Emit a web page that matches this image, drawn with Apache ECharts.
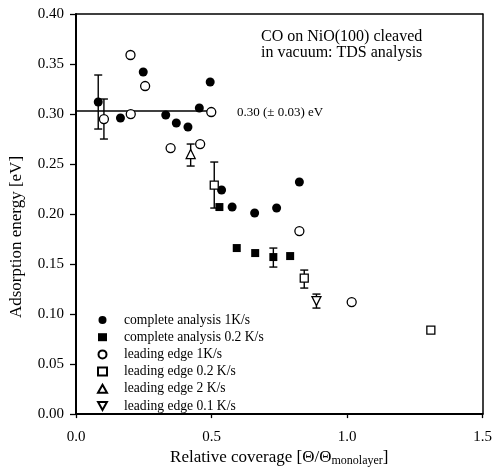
<!DOCTYPE html>
<html><head><meta charset="utf-8">
<script src="https://cdn.jsdelivr.net/npm/echarts@6/dist/echarts.min.js"></script>
<style>html,body{margin:0;padding:0;background:#fff}#c{width:495px;height:472px}</style>
</head><body><div id="c"></div>
<script>
// complete analysis 1K/s
const ca1X = [0.082,0.164,0.248,0.331,0.370,0.413,0.455,0.495,0.537,0.576,0.659,0.740,0.824];
const ca1Y = [0.312,0.296,0.342,0.299,0.291,0.287,0.306,0.332,0.224,0.207,0.201,0.206,0.232];
// complete analysis 0.2 K/s
const ca02X = [0.529,0.593,0.661,0.728,0.790];
const ca02Y = [0.207,0.166,0.161,0.157,0.158];
// leading edge 1K/s
const le1X = [0.103,0.201,0.202,0.255,0.349,0.458,0.499,0.824,1.017];
const le1Y = [0.295,0.359,0.300,0.328,0.266,0.270,0.302,0.183,0.112];
// leading edge 0.2 K/s
const le02X = [0.510,0.842,1.309];
const le02Y = [0.229,0.136,0.084];
// leading edge 2 K/s
const le2X = [0.423];
const le2Y = [0.260];
// leading edge 0.1 K/s
const le01X = [0.887];
const le01Y = [0.113];
// error bars: x, low, high
const errX = [0.082,0.103,0.423,0.510,0.728,0.842,0.887];
const errLo = [0.285,0.275,0.248,0.206,0.147,0.126,0.106];
const errHi = [0.339,0.315,0.270,0.252,0.166,0.144,0.120];
// mean line
const meanX = [0.0,0.5];
const meanY = [0.303,0.303];
const seriesNames = ['complete analysis 1K/s','complete analysis 0.2 K/s','leading edge 1K/s','leading edge 0.2 K/s','leading edge 2 K/s','leading edge 0.1 K/s'];

const zip = (a,b)=>a.map((v,i)=>[v,b[i]]);
const font = '"Liberation Serif","DejaVu Serif",serif';
const filled = {color:'#000',opacity:1};
const open = {color:'#fff',borderColor:'#000',borderWidth:1.3,opacity:1};
const downTri = 'path://M0,0L10,0L5,9Z';

const chart = echarts.init(document.getElementById('c'),null,{renderer:'canvas'});
chart.setOption({
  animation:false,
  backgroundColor:'#fff',
  grid:{left:76,right:11,top:14,bottom:51,containLabel:false},
  textStyle:{fontFamily:font,color:'#000'},
  xAxis:[{type:'value',min:0,max:1.5,interval:0.5,
    name:'{a|Relative coverage [Θ/Θ}{s|monolayer}{a|]}',nameLocation:'middle',nameGap:23,
    nameTextStyle:{rich:{a:{fontFamily:font,fontSize:17,color:'#000'},s:{fontFamily:font,fontSize:12,color:'#000',verticalAlign:'bottom',padding:[7,0,0,0]}}},
    axisLine:{lineStyle:{color:'#000',width:2}},
    axisTick:{show:true,inside:false,length:4,lineStyle:{color:'#000',width:1.3}},
    axisLabel:{color:'#000',fontFamily:font,fontSize:15,margin:15,formatter:v=>v.toFixed(1)},
    splitLine:{show:false}},
    {type:'value',position:'top',min:0,max:1.5,axisLine:{show:true,onZero:false,lineStyle:{color:'#000',width:1.5}},axisTick:{show:false},axisLabel:{show:false},splitLine:{show:false}}],
  yAxis:[{type:'value',min:0,max:0.4,interval:0.05,
    axisLine:{lineStyle:{color:'#000',width:2}},
    axisTick:{show:true,inside:false,length:6,lineStyle:{color:'#000',width:1.3}},
    axisLabel:{color:'#000',fontFamily:font,fontSize:15,margin:12,formatter:v=>v.toFixed(2)},
    splitLine:{show:false}},
    {type:'value',position:'right',min:0,max:0.4,axisLine:{show:true,onZero:false,lineStyle:{color:'#000',width:1.5}},axisTick:{show:false},axisLabel:{show:false},splitLine:{show:false}}],
  legend:{orient:'vertical',left:97,top:313,itemGap:3.2,itemWidth:9,itemHeight:8,padding:0,
    textStyle:{fontFamily:font,fontSize:13.6,color:'#000',padding:[0,0,0,12]},
    data:[seriesNames[0],seriesNames[1],seriesNames[2],seriesNames[3],seriesNames[4],{name:seriesNames[5],icon:downTri}]},
  graphic:[
    {type:'text',x:17,y:237,rotation:Math.PI/2,style:{text:'Adsorption energy [eV]',font:'17px '+font,fill:'#000',align:'center',verticalAlign:'middle'}},
    {type:'text',left:261,top:29,style:{text:'CO on NiO(100) cleaved\nin vacuum: TDS analysis',font:'16px '+font,fill:'#000',lineHeight:16}},
    {type:'text',left:237,top:106,style:{text:'0.30 (± 0.03) eV',font:'13px '+font,fill:'#000'}}
  ],
  series:[
    {type:'line',data:zip(meanX,meanY),showSymbol:false,symbol:'none',lineStyle:{color:'#000',width:1.3},silent:true,z:1},
    {type:'custom',data:errX.map((x,i)=>[x,errLo[i],errHi[i]]),z:2,silent:true,
      renderItem:(params,api)=>{
        const lo=api.coord([api.value(0),api.value(1)]);
        const hi=api.coord([api.value(0),api.value(2)]);
        const w=4;
        const st={stroke:'#000',lineWidth:1.4};
        return {type:'group',children:[
          {type:'line',shape:{x1:lo[0],y1:lo[1],x2:hi[0],y2:hi[1]},style:st},
          {type:'line',shape:{x1:lo[0]-w,y1:lo[1],x2:lo[0]+w,y2:lo[1]},style:st},
          {type:'line',shape:{x1:hi[0]-w,y1:hi[1],x2:hi[0]+w,y2:hi[1]},style:st}
        ]};
      }},
    {name:seriesNames[0],type:'scatter',data:zip(ca1X,ca1Y),symbol:'circle',symbolSize:9,itemStyle:filled,z:3},
    {name:seriesNames[1],type:'scatter',data:zip(ca02X,ca02Y),symbol:'rect',symbolSize:8,itemStyle:filled,z:3},
    {name:seriesNames[2],type:'scatter',data:zip(le1X,le1Y),symbol:'circle',symbolSize:9,itemStyle:open,z:4},
    {name:seriesNames[3],type:'scatter',data:zip(le02X,le02Y),symbol:'rect',symbolSize:8,itemStyle:open,z:4},
    {name:seriesNames[4],type:'scatter',data:zip(le2X,le2Y),symbol:'triangle',symbolSize:9,itemStyle:open,z:4},
    {name:seriesNames[5],type:'scatter',data:zip(le01X,le01Y),symbol:downTri,symbolSize:9,itemStyle:open,z:4}
  ]
});
</script></body></html>
